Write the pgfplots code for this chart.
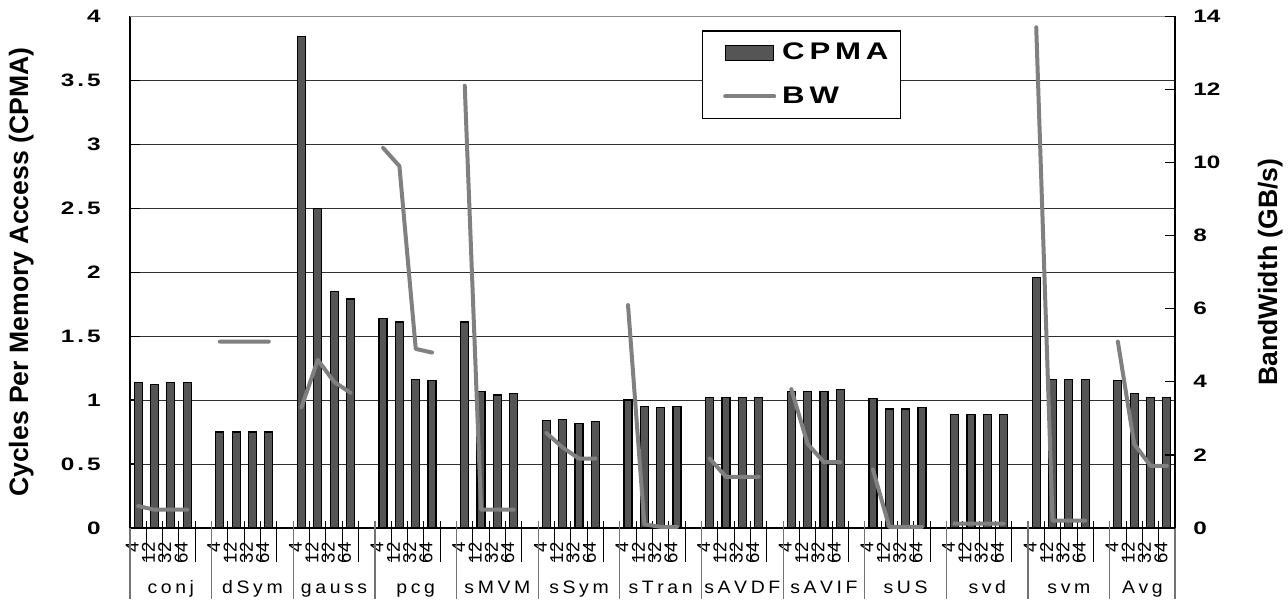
\documentclass[border=0pt]{standalone}
\usepackage{fontspec}
\setmainfont{Liberation Sans}
\usepackage{pgfplots}
\pgfplotsset{compat=1.18}
\definecolor{barfill}{HTML}{555555}
\definecolor{bwline}{HTML}{808080}
\definecolor{gridc}{HTML}{303030}
\newcommand{\tickfont}{\fontsize{9}{10}\selectfont\bfseries\addfontfeature{FakeStretch=1.35}}
\newcommand{\labfont}{\fontsize{13.3}{15}\selectfont\bfseries}
\newcommand{\legfont}{\fontsize{12}{14}\selectfont\bfseries\addfontfeature{FakeStretch=1.3,LetterSpace=20}}
\newcommand{\catfont}{\fontsize{9}{11}\selectfont\addfontfeature{FakeStretch=1.08}}
\newcommand{\sizefont}{\fontsize{9.3}{10}\selectfont}
\newcommand{\dt}{\kern1.5pt.\kern1.5pt}
\newcommand{\ls}{\kern1.8pt}
\pgfplotsset{
  barleg/.style={legend image code/.code={\path (0pt,0pt); \draw[##1] (6.5pt,-3.75pt) rectangle (30.5pt,3.75pt);}},
  lineleg/.style={legend image code/.code={\path (0pt,0pt); \draw[##1] (6.5pt,0pt) -- (31pt,0pt);}},
}
\begin{document}
\begin{tikzpicture}
\begin{axis}[
  width=522.5pt, height=255.85pt, scale only axis, clip=false,
  xmin=-0.5, xmax=63.5, ymin=0, ymax=4,
  axis x line*=bottom, axis y line*=left,
  axis line style={black, line width=0.6pt},
  ytick={0,0.5,1,1.5,2,2.5,3,3.5,4},
  yticklabels={0,0\dt5,1,1\dt5,2,2\dt5,3,3\dt5,4},
  tick align=inside, major tick length=5pt,
  ytick style={black, line width=0.6pt},
  yticklabel style={font=\tickfont, anchor=east, inner sep=0pt, xshift=-14.5pt},
  ymajorgrids, grid style={gridc, line width=0.5pt},
  xtick={2,7,12,17,22,27,32,37,42,47,52,57,61.5},
  xticklabels={c\ls o\ls n\ls j,d\ls S\ls y\ls m,g\ls a\ls u\ls s\ls s,p\ls c\ls g,s\ls M\ls V\ls M,s\ls S\ls y\ls m,s\ls T\ls r\ls a\ls n,s\ls A\ls V\ls D\ls F,s\ls A\ls V\ls I\ls F,s\ls U\ls S,s\ls v\ls d,s\ls v\ls m,A\ls v\ls g},
  xtick style={draw=none},
  xticklabel style={font=\catfont, anchor=base, inner sep=0pt, yshift=-32.5pt},
  extra x ticks={0,1,2,3,5,6,7,8,10,11,12,13,15,16,17,18,20,21,22,23,25,26,27,28,30,31,32,33,35,36,37,38,40,41,42,43,45,46,47,48,50,51,52,53,55,56,57,58,60,61,62,63},
  extra x tick labels={4,12,32,64,4,12,32,64,4,12,32,64,4,12,32,64,4,12,32,64,4,12,32,64,4,12,32,64,4,12,32,64,4,12,32,64,4,12,32,64,4,12,32,64,4,12,32,64,4,12,32,64},
  extra x tick style={xmajorgrids=false, xtick style={draw=none},
    xticklabel style={yshift=32.5pt, rotate=90, anchor=east, inner sep=0pt, font=\sizefont, xshift=-7pt, yshift=3pt}},
  ylabel={Cycles Per Memory Access (CPMA)},
  every axis y label/.style={at={(axis description cs:-0.0976,0.5)}, rotate=90, anchor=base, font=\labfont},
]
\addplot[ybar, bar width=4pt, bar shift=0pt, fill=barfill, draw=black, line width=0.6pt] coordinates {
(0,1.14) (1,1.12) (2,1.14) (3,1.14)
(5,0.75) (6,0.75) (7,0.75) (8,0.75)
(10,3.84) (11,2.50) (12,1.85) (13,1.79)
(15,1.64) (16,1.61) (17,1.16) (18,1.15)
(20,1.61) (21,1.07) (22,1.04) (23,1.05)
(25,0.84) (26,0.85) (27,0.82) (28,0.83)
(30,1.00) (31,0.95) (32,0.94) (33,0.95)
(35,1.02) (36,1.02) (37,1.02) (38,1.02)
(40,1.07) (41,1.07) (42,1.07) (43,1.08)
(45,1.01) (46,0.93) (47,0.93) (48,0.94)
(50,0.89) (51,0.89) (52,0.89) (53,0.89)
(55,1.96) (56,1.16) (57,1.16) (58,1.16)
(60,1.15) (61,1.05) (62,1.02) (63,1.02)
};
\draw[black!45, line width=0.6pt] (rel axis cs:0,1) -- (rel axis cs:1,1);
\pgfplotsinvokeforeach{0.5,1.5,2.5,3.5,5.5,6.5,7.5,8.5,10.5,11.5,12.5,13.5,15.5,16.5,17.5,18.5,20.5,21.5,22.5,23.5,25.5,26.5,27.5,28.5,30.5,31.5,32.5,33.5,35.5,36.5,37.5,38.5,40.5,41.5,42.5,43.5,45.5,46.5,47.5,48.5,50.5,51.5,52.5,53.5,55.5,56.5,57.5,58.5,60.5,61.5,62.5}{
  \draw[black, line width=0.5pt] ([yshift=3.5pt]axis cs:#1,0) -- ([yshift=-17pt]axis cs:#1,0);
}
\pgfplotsinvokeforeach{4.5,9.5,14.5,19.5,24.5,29.5,34.5,39.5,44.5,49.5,54.5,59.5}{
  \draw[black!55, line width=0.6pt] ([yshift=3.5pt]axis cs:#1,0) -- ([yshift=-35.5pt]axis cs:#1,0);
}
\pgfplotsinvokeforeach{-0.5,63.5}{
  \draw[black!55, line width=0.6pt] (axis cs:#1,0) -- ([yshift=-35.5pt]axis cs:#1,0);
}
\end{axis}
\begin{axis}[
  width=522.5pt, height=255.85pt, scale only axis,
  xmin=-0.5, xmax=63.5, ymin=0, ymax=14,
  axis x line=none, axis y line*=right,
  axis line style={black, line width=0.6pt},
  ytick={0,2,4,6,8,10,12,14},
  yticklabels={0,2,4,6,8,10,12,14},
  tick align=inside, major tick length=5pt,
  ytick style={black, line width=0.6pt},
  yticklabel style={font=\tickfont, anchor=west, inner sep=0pt, xshift=9pt},
  ylabel={BandWidth (GB/s)},
  every axis y label/.style={at={(axis description cs:1.0976,0.5)}, rotate=90, anchor=base, font=\labfont},
  unbounded coords=jump,
  legend style={at={(rel axis cs:0.547,0.9726)}, anchor=north west, draw=black, line width=0.6pt, fill=white,
    font=\legfont, inner xsep=4pt, inner ysep=4pt, row sep=8pt, column sep=1pt, cells={anchor=west}},
]
\addlegendimage{fill=barfill, draw=black, line width=0.6pt, barleg}
\addplot[bwline, line width=2pt, line cap=round, line join=round, lineleg] coordinates {
(0,0.6) (1,0.5) (2,0.5) (3,0.5) (4,nan)
(5,5.1) (6,5.1) (7,5.1) (8,5.1) (9,nan)
(10,3.3) (11,4.6) (12,4.0) (13,3.7) (14,nan)
(15,10.4) (16,9.9) (17,4.9) (18,4.8) (19,nan)
(20,12.1) (21,0.5) (22,0.5) (23,0.5) (24,nan)
(25,2.6) (26,2.2) (27,1.9) (28,1.9) (29,nan)
(30,6.1) (31,0.1) (32,0.03) (33,0.03) (34,nan)
(35,1.9) (36,1.4) (37,1.4) (38,1.4) (39,nan)
(40,3.8) (41,2.3) (42,1.8) (43,1.8) (44,nan)
(45,1.6) (46,0.03) (47,0.03) (48,0.03) (49,nan)
(50,0.12) (51,0.12) (52,0.12) (53,0.12) (54,nan)
(55,13.7) (56,0.2) (57,0.2) (58,0.2) (59,nan)
(60,5.1) (61,2.3) (62,1.7) (63,1.7)
};
\legend{CPMA,BW}
\end{axis}
\pgfresetboundingbox
\path (-65pt,-35.5pt) rectangle (579pt,264pt);
\end{tikzpicture}
\end{document}
